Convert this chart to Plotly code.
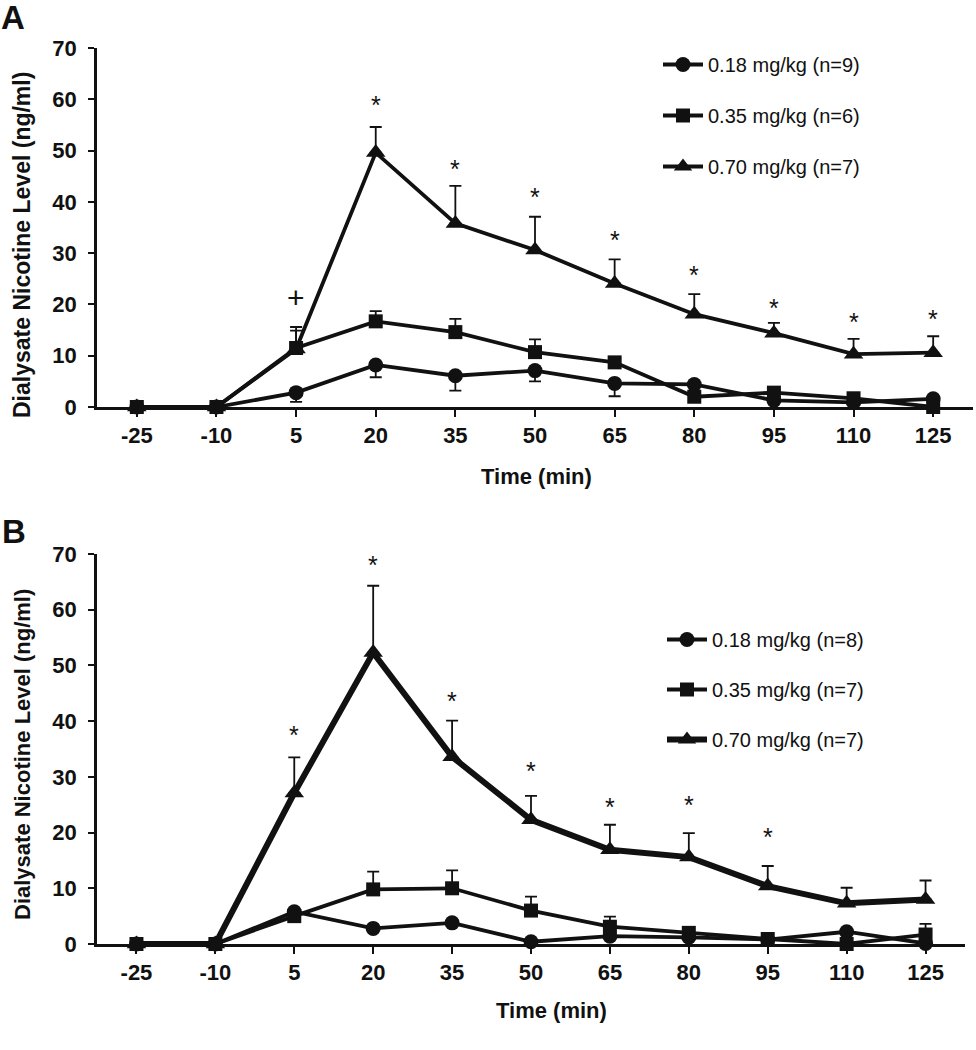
import plotly.graph_objects as go

# ---------------- data ----------------
times = ["-25", "-10", "5", "20", "35", "50", "65", "80", "95", "110", "125"]

# Panel A
a_low = [0, 0, 2.8, 8.2, 6.1, 7.1, 4.6, 4.4, 1.3, 0.9, 1.6]
a_low_err = [0, 0, 1.8, 2.4, 2.9, 2.1, 2.5, 0, 0, 0, 0]
a_mid = [0, 0, 11.5, 16.7, 14.6, 10.7, 8.7, 2.0, 2.8, 1.7, 0]
a_mid_err = [0, 0, 3.4, 2.0, 2.6, 2.5, 0.5, 0, 0, 0, 0]
a_high = [0, 0, 11.3, 49.6, 35.8, 30.6, 24.1, 18.1, 14.4, 10.3, 10.6]
a_high_err = [0, 0, 4.3, 5.0, 7.3, 6.5, 4.7, 3.9, 2.0, 3.0, 3.2]
a_names = ["0.18 mg/kg (n=9)", "0.35 mg/kg (n=6)", "0.70 mg/kg (n=7)"]
a_star_x = ["20", "35", "50", "65", "80", "95", "110", "125"]
a_star_y = [60.0, 47.5, 42.2, 33.7, 26.9, 20.5, 17.7, 18.4]
a_plus_x = ["5"]
a_plus_y = [21.3]

# Panel B
b_low = [0, 0, 5.8, 2.8, 3.8, 0.4, 1.4, 1.2, 0.8, 2.2, 0.1]
b_low_err = [0, 0, 0, 0, 0, 0, 0, 0, 0, 0, 0]
b_mid = [0, 0, 5.0, 9.8, 10.0, 6.0, 3.1, 2.0, 0.9, 0, 1.7]
b_mid_err = [0, 0, 0.8, 3.2, 3.2, 2.5, 1.8, 0.4, 0.3, 0, 1.9]
b_high = [0, 0, 27.1, 52.3, 33.6, 22.3, 16.9, 15.6, 10.4, 7.3, 8.0]
b_high_err = [0, 0, 6.4, 12.0, 6.5, 4.3, 4.5, 4.3, 3.6, 2.8, 3.4]
b_names = ["0.18 mg/kg (n=8)", "0.35 mg/kg (n=7)", "0.70 mg/kg (n=7)"]
b_star_x = ["5", "20", "35", "50", "65", "80", "95"]
b_star_y = [38.6, 69.1, 44.7, 32.2, 25.6, 26.0, 20.2]

y_ticks = [0, 10, 20, 30, 40, 50, 60, 70]

# ---------------- figure ----------------
FONT = "Liberation Sans, Arial, Helvetica, sans-serif"
BLACK = "#111111"
fig = go.Figure()


def add_series(x, y, err, name, symbol, size, lw, xa, ya, leg, rank, down=False):
    zeros = [0] * len(err)
    fig.add_trace(go.Scatter(
        x=x, y=y, name=name, mode="lines+markers",
        xaxis=xa, yaxis=ya, legend=leg, legendgroup=leg + name, legendrank=rank,
        line=dict(color=BLACK, width=lw),
        marker=dict(symbol=symbol, size=size, color=BLACK, line=dict(width=0)),
        error_y=dict(type="data", symmetric=False,
                     array=zeros if down else err,
                     arrayminus=err if down else zeros,
                     color=BLACK, thickness=1.8, width=6),
        cliponaxis=False,
    ))


# Panel A (traces in draw order: triangle, circle, square)
add_series(times, a_high, a_high_err, a_names[2], "triangle-up", 17, 3.8, "x", "y", "legend", 3)
add_series(times, a_low, a_low_err, a_names[0], "circle", 15, 3.8, "x", "y", "legend", 1, down=True)
add_series(times, a_mid, a_mid_err, a_names[1], "square", 14, 3.8, "x", "y", "legend", 2)

# Panel B
add_series(times, b_high, b_high_err, b_names[2], "triangle-up", 17, 6, "x2", "y2", "legend2", 3)
add_series(times, b_low, b_low_err, b_names[0], "circle", 15, 3.8, "x2", "y2", "legend2", 1, down=True)
add_series(times, b_mid, b_mid_err, b_names[1], "square", 14, 3.8, "x2", "y2", "legend2", 2)

W, H = 976, 1050
xa_dom = [97 / W, 973 / W]
ya_dom = [1 - 407 / H, 1 - 48 / H]
xb_dom = [97 / W, 965 / W]
yb_dom = [1 - 944 / H, 1 - 554 / H]

tickfont = dict(family=FONT, size=22, color=BLACK, weight="bold")


def xaxis(dom, anchor):
    return dict(domain=dom, anchor=anchor, type="category", range=[-0.5, 10.5],
                showline=True, linecolor=BLACK, linewidth=2.5, ticks="outside",
                ticklen=7, tickwidth=2, tickcolor=BLACK, showgrid=False,
                zeroline=False, tickfont=tickfont, categoryorder="array",
                categoryarray=times, automargin=False, ticklabelstandoff=0)


def yaxis(dom, anchor):
    return dict(domain=dom, anchor=anchor, range=[0, 70], tickvals=y_ticks,
                showline=True, linecolor=BLACK, linewidth=2.5, ticks="outside",
                ticklen=6, tickwidth=2, tickcolor=BLACK, showgrid=False,
                zeroline=False, tickfont=tickfont, automargin=False,
                ticklabelstandoff=7)


legfont = dict(family=FONT, size=20, color=BLACK)
fig.update_layout(
    template="none",
    width=W, height=H, margin=dict(l=0, r=0, t=0, b=0, pad=0, autoexpand=False),
    paper_bgcolor="white", plot_bgcolor="white",
    xaxis=xaxis(xa_dom, "y"), yaxis=yaxis(ya_dom, "x"),
    xaxis2=xaxis(xb_dom, "y2"), yaxis2=yaxis(yb_dom, "x2"),
    legend=dict(x=658 / W, y=1 - 45 / H, xanchor="left", yanchor="top",
                font=legfont, traceorder="grouped", tracegroupgap=22,
                bgcolor="rgba(0,0,0,0)", borderwidth=0, itemwidth=40),
    legend2=dict(x=662 / W, y=1 - 620 / H, xanchor="left", yanchor="top",
                 font=legfont, traceorder="grouped", tracegroupgap=21,
                 bgcolor="rgba(0,0,0,0)", borderwidth=0, itemwidth=40),
    showlegend=True,
)

# significance markers (placed at category index on the category axis)
for xs, ys, xr, yr in [(a_star_x, a_star_y, "x", "y"), (b_star_x, b_star_y, "x2", "y2")]:
    for xv, yv in zip(xs, ys):
        fig.add_annotation(x=times.index(xv), y=yv, xref=xr, yref=yr, text="*",
                           showarrow=False,
                           font=dict(family=FONT, size=25, color=BLACK),
                           yanchor="middle", yshift=-6)
for xv, yv in zip(a_plus_x, a_plus_y):
    fig.add_annotation(x=times.index(xv), y=yv, xref="x", yref="y", text="+",
                       showarrow=False,
                       font=dict(family=FONT, size=30, color=BLACK), yanchor="middle")

# titles and panel labels
for (xc, yc, fs) in [(22, 245, 23), (22, 755, 22)]:
    fig.add_annotation(x=xc / W, y=1 - yc / H, xref="paper", yref="paper",
                       text="Dialysate Nicotine Level (ng/ml)", textangle=-90,
                       showarrow=False,
                       font=dict(family=FONT, size=fs, color=BLACK, weight="bold"),
                       xanchor="center", yanchor="middle")
for (xc, yc) in [(536, 476), (551, 1010)]:
    fig.add_annotation(x=xc / W, y=1 - yc / H, xref="paper", yref="paper",
                       text="Time (min)", showarrow=False,
                       font=dict(family=FONT, size=22, color=BLACK, weight="bold"),
                       xanchor="center", yanchor="middle")
fig.add_annotation(x=13 / W, y=1.0, xref="paper", yref="paper", text="A",
                   showarrow=False,
                   font=dict(family=FONT, size=33, color=BLACK, weight="bold"),
                   xanchor="center", yanchor="top", yshift=3)
fig.add_annotation(x=14 / W, y=1 - 531 / H, xref="paper", yref="paper", text="B",
                   showarrow=False,
                   font=dict(family=FONT, size=33, color=BLACK, weight="bold"),
                   xanchor="center", yanchor="middle")

# remove the default page margin so the figure sits at the window's top-left corner
fig.write_html("out.html", config={"displayModeBar": False},
               post_script="document.body.style.margin='0px';")
